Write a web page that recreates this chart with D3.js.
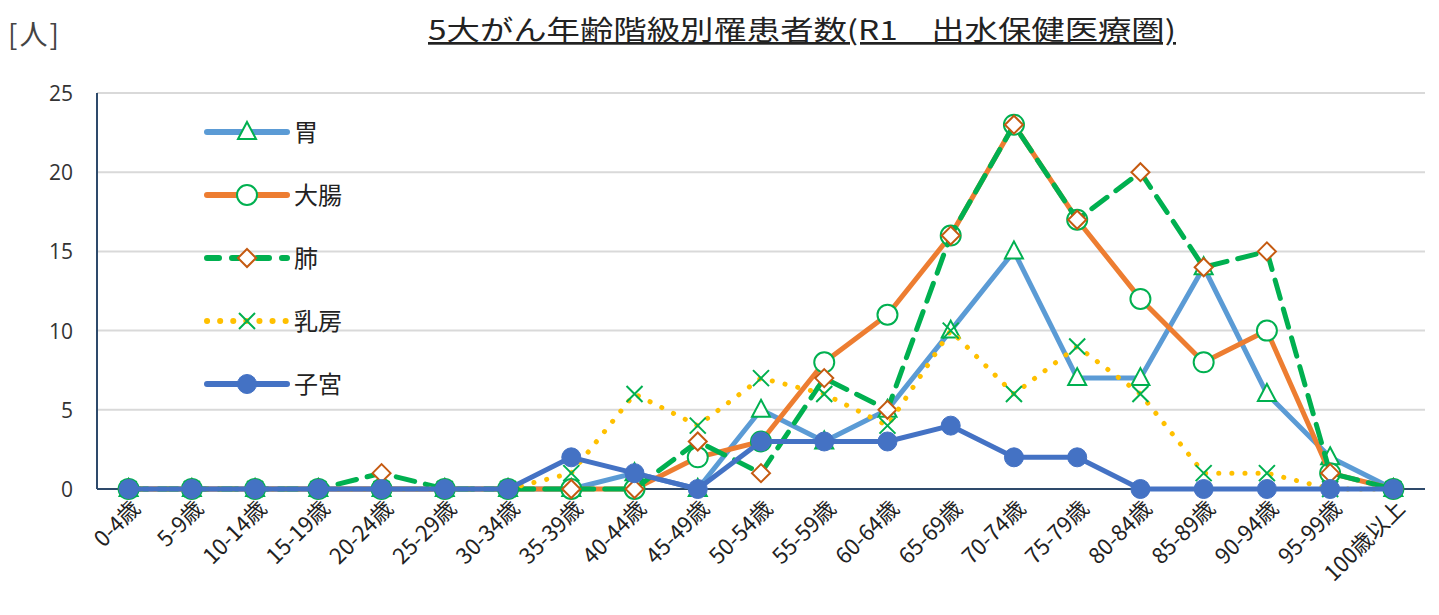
<!DOCTYPE html>
<html>
<head>
<meta charset="utf-8">
<script src="https://cdn.jsdelivr.net/npm/d3@7"></script>
<style>
  body { margin: 0; background: #fff; }
  svg { font-family: "Noto Sans CJK JP", "Noto Sans", sans-serif; }
  .grid line { stroke: #d9d9d9; stroke-width: 2; }
</style>
</head>
<body>
<div id="graphicContainer"></div>
<script>
// age groups
var ages = ["0-4歳","5-9歳","10-14歳","15-19歳","20-24歳","25-29歳","30-34歳","35-39歳","40-44歳","45-49歳",
  "50-54歳","55-59歳","60-64歳","65-69歳","70-74歳","75-79歳","80-84歳","85-89歳","90-94歳","95-99歳","100歳以上"];

var stomach = [0,0,0,0,0,0,0,0,1,0,5,3,5,10,15,7,7,14,6,2,0];
var colon   = [0,0,0,0,0,0,0,0,0,2,3,8,11,16,23,17,12,8,10,1,0];
var lung    = [0,0,0,0,1,0,0,0,0,3,1,7,5,16,23,17,20,14,15,1,0];
var breast  = [0,0,0,0,0,0,0,1,6,4,7,6,4,10,6,9,6,1,1,0,0];
var uterus  = [0,0,0,0,0,0,0,2,1,0,3,3,3,4,2,2,0,0,0,0,0];

var yTicks = [0,5,10,15,20,25];

var series = [
  {name: "胃",   values: stomach, color: "#5B9BD5", dash: null,    marker: "triangle"},
  {name: "大腸", values: colon,   color: "#ED7D31", dash: null,    marker: "circle"},
  {name: "肺",   values: lung,    color: "#00B050", dash: "19,11", marker: "diamond"},
  {name: "乳房", values: breast,  color: "#FFC000", dash: "0.1,13", marker: "cross"},
  {name: "子宮", values: uterus,  color: "#4472C4", dash: null,    marker: "dot"}
];

var W = 1439, H = 615;
var margin = {top: 93, right: 14, bottom: 126, left: 97};

var svg = d3.select("#graphicContainer").append("svg")
    .attr("width", W)
    .attr("height", H);

var x = d3.scalePoint().domain(ages).range([margin.left, W - margin.right]).padding(0.5);
var y = d3.scaleLinear().domain([0, 25]).range([H - margin.bottom, margin.top]);

// title + unit
svg.append("text")
    .attr("x", 428).attr("y", 40)
    .attr("font-size", 27)
    .attr("fill", "#222")
    .attr("textLength", 748)
    .attr("lengthAdjust", "spacingAndGlyphs")
    .style("text-decoration", "underline")
    .text("5大がん年齢階級別罹患者数(R1　出水保健医療圏)");

svg.append("text")
    .attr("x", 8).attr("y", 45)
    .attr("font-size", 28)
    .attr("letter-spacing", 2)
    .attr("fill", "#444")
    .text("[人]");

// gridlines
svg.append("g")
    .attr("class", "grid")
    .selectAll("line")
    .data(yTicks.filter(d => d > 0))
    .join("line")
    .attr("x1", margin.left).attr("x2", W - margin.right)
    .attr("y1", d => y(d)).attr("y2", d => y(d));

// y axis labels
svg.append("g")
    .selectAll("text")
    .data(yTicks)
    .join("text")
    .attr("x", 73)
    .attr("y", d => y(d) + 8)
    .attr("text-anchor", "end")
    .attr("font-family", "'Open Sans', sans-serif")
    .attr("font-size", 21)
    .attr("fill", "#333")
    .text(d => d);

// axis lines
svg.append("line")
    .attr("x1", margin.left).attr("x2", margin.left)
    .attr("y1", y(25)).attr("y2", y(0))
    .attr("stroke", "#2E4A6B").attr("stroke-width", 2);
svg.append("line")
    .attr("x1", margin.left).attr("x2", W - margin.right)
    .attr("y1", y(0)).attr("y2", y(0))
    .attr("stroke", "#2E4A6B").attr("stroke-width", 2);

// x labels
svg.append("g")
    .selectAll("text")
    .data(ages)
    .join("text")
    .attr("transform", d => "translate(" + (x(d) + 13) + "," + (y(0) + 21) + ") rotate(-45)")
    .attr("text-anchor", "end")
    .attr("font-size", 22)
    .attr("fill", "#222")
    .text(d => d);

function drawMarker(g, type, cx, cy) {
  if (type === "triangle") {
    g.append("path")
      .attr("d", "M" + cx + "," + (cy - 10) + "L" + (cx + 9) + "," + (cy + 7) + "L" + (cx - 9) + "," + (cy + 7) + "Z")
      .attr("fill", "#fff").attr("stroke", "#00B050").attr("stroke-width", 2);
  } else if (type === "circle") {
    g.append("circle").attr("cx", cx).attr("cy", cy).attr("r", 10)
      .attr("fill", "#fff").attr("stroke", "#00B050").attr("stroke-width", 2);
  } else if (type === "diamond") {
    g.append("path")
      .attr("d", "M" + cx + "," + (cy - 9) + "L" + (cx + 9) + "," + cy + "L" + cx + "," + (cy + 9) + "L" + (cx - 9) + "," + cy + "Z")
      .attr("fill", "#fff").attr("stroke", "#C55A11").attr("stroke-width", 2);
  } else if (type === "cross") {
    g.append("path")
      .attr("d", "M" + (cx - 8) + "," + (cy - 8) + "L" + (cx + 8) + "," + (cy + 8) + "M" + (cx + 8) + "," + (cy - 8) + "L" + (cx - 8) + "," + (cy + 8))
      .attr("fill", "none").attr("stroke", "#00B050").attr("stroke-width", 2);
  } else if (type === "dot") {
    g.append("circle").attr("cx", cx).attr("cy", cy).attr("r", 9.5)
      .attr("fill", "#4472C4").attr("stroke", "#4472C4").attr("stroke-width", 1);
  }
}

var line = d3.line()
    .x((d, i) => x(ages[i]))
    .y(d => y(d));

series.forEach(function(s) {
  var g = svg.append("g");
  g.append("path")
    .datum(s.values)
    .attr("d", line)
    .attr("fill", "none")
    .attr("stroke", s.color)
    .attr("stroke-width", 5)
    .attr("stroke-linecap", "round")
    .attr("stroke-linejoin", "round")
    .attr("stroke-dasharray", s.dash);
  s.values.forEach(function(v, i) {
    drawMarker(g, s.marker, x(ages[i]), y(v));
  });
});

// legend
var legend = svg.append("g");
series.forEach(function(s, i) {
  var ly = 132 + i * 63;
  var g = legend.append("g");
  g.append("line")
    .attr("x1", 207).attr("x2", 287)
    .attr("y1", ly).attr("y2", ly)
    .attr("stroke", s.color)
    .attr("stroke-width", 6)
    .attr("stroke-linecap", "round")
    .attr("stroke-dasharray", s.marker === "cross" ? "0.1,13" : (s.dash ? "12,13" : null));
  drawMarker(g, s.marker, 247, ly);
  g.append("text")
    .attr("x", 294).attr("y", ly + 9)
    .attr("font-size", 24)
    .attr("fill", "#222")
    .text(s.name);
});
</script>
</body>
</html>
